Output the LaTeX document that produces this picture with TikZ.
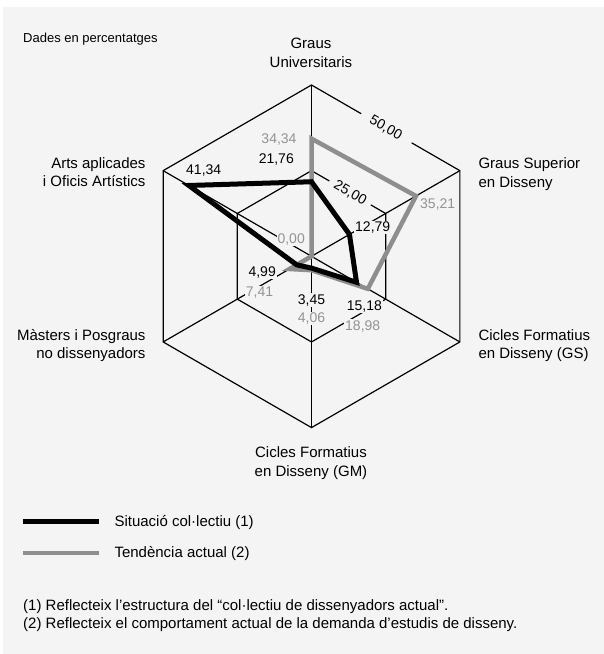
\documentclass[tikz,border=0pt]{standalone}
\usepackage{fontspec}
\setmainfont{Liberation Sans}
\usetikzlibrary{calc}
\definecolor{bgc}{HTML}{F4F4F4}
\definecolor{glinec}{HTML}{8E8E8E}
\definecolor{gtext}{HTML}{939393}
\begin{document}
\begin{tikzpicture}[x=1pt,y=-1pt,
  grid/.style={line width=1.2pt,black},
  lab/.style={font=\fontsize{15}{19}\selectfont,inner sep=0pt},
  num/.style={font=\fontsize{14}{17}\selectfont,inner sep=1pt,fill=bgc},
  numk/.style={num,text=black},
  numg/.style={num,text=gtext},
  rlab/.style={font=\fontsize{14}{17}\selectfont,inner sep=0pt,rotate=-30},
  kdata/.style={line width=5pt,draw=black,line join=miter},
  gdata/.style={line width=4.5pt,draw=glinec,line join=miter}]
\useasboundingbox (0,0) rectangle (604,654);
\fill[white] (0,0) rectangle (604,654);
\fill[bgc] (3,7) rectangle (604,654);
\coordinate (C) at (311.5,256.3);
\foreach \n/\a in {t/-90,ur/-30,lr/30,b/90,ll/150,ul/210}{
  \path (C) ++(\a:171.3) coordinate (O\n);
  \path (C) ++(\a:85.65) coordinate (I\n);
}
% grid (gaps on the top-right edges for the scale labels)
\draw[grid] ($(Ot)!0.675!(Our)$)--(Our)--(Olr)--(Ob)--(Oll)--(Oul)--(Ot)--($(Ot)!0.335!(Our)$);
\draw[grid] ($(It)!0.80!(Iur)$)--(Iur)--(Ilr)--(Ib)--(Ill)--(Iul)--(It)--($(It)!0.24!(Iur)$);
\draw[grid] (Ot)--(Ob);
\draw[grid] (Our)--(Oll);
\draw[grid] (Oul)--(Olr);
% scale labels
\node[rlab] (s50) at ($(Ot)!0.5!(Our)$) {50,00};
\node[rlab] (s25) at ($(It)!0.52!(Iur)$) {25,00};
\node[numg,anchor=base east] (s0) at (306,243.3) {0,00};
% value labels
\node[numg,anchor=base east] (v1) at (297.7,143.3) {34,34};
\node[numk,anchor=base east] (v2) at (295,163.3) {21,76};
\node[numk,anchor=base west] (v3) at (185,174) {41,34};
\node[numk,anchor=base west] (v4) at (354,231.7) {12,79};
\node[numg,anchor=base west] (v5) at (419,208.3) {35,21};
\node[numk,anchor=base east] (v6) at (277,276.7) {4,99};
\node[numg,anchor=base east] (v7) at (274.3,296.7) {7,41};
\node[numk,anchor=base] (v8) at (311.5,304) {3,45};
\node[numg,anchor=base] (v9) at (311.5,322.7) {4,06};
\node[numk,anchor=base west] (v10) at (345.7,310) {15,18};
\node[numg,anchor=base west] (v11) at (344,330) {18,98};
% data
\foreach \n/\a/\k/\g in {t/-90/21.76/34.34,ur/-30/12.79/35.21,lr/30/15.18/18.98,b/90/3.45/4.06,ll/150/4.99/7.41,ul/210/41.34/0}{
  \path (C) ++(\a:{\k*3.426}) coordinate (K\n);
  \path (C) ++(\a:{\g*3.426}) coordinate (G\n);
}
\draw[gdata] (Gt)--(Gur)--(Glr)--(Gb)--(Gll)--(Gul)--cycle;
\draw[kdata] (Kt)--(Kur)--(Klr)--(Kb)--(Kll)--(Kul)--cycle;
% axis labels
\node[lab,anchor=base west,font=\fontsize{13}{15}\selectfont] (dades) at (23,42) {Dades en percentatges};
\node[lab,anchor=base] (gu1) at (311,48.3) {Graus};
\node[lab,anchor=base] (gu2) at (311,67.3) {Universitaris};
\node[lab,anchor=base west] (gs1) at (478.3,168.3) {Graus Superior};
\node[lab,anchor=base west] (gs2) at (478.3,187.3) {en Disseny};
\node[lab,anchor=base west] (cg1) at (478.3,340) {Cicles Formatius};
\node[lab,anchor=base west] (cg2) at (478.3,358.7) {en Disseny (GS)};
\node[lab,anchor=base] (cm1) at (311,457) {Cicles Formatius};
\node[lab,anchor=base] (cm2) at (311,476) {en Disseny (GM)};
\node[lab,anchor=base east] (mp1) at (145.7,340) {Màsters i Posgraus};
\node[lab,anchor=base east] (mp2) at (145.7,358.5) {no dissenyadors};
\node[lab,anchor=base east] (ar1) at (145.7,168.3) {Arts aplicades};
\node[lab,anchor=base east] (ar2) at (145.7,186.7) {i Oficis Artístics};
% legend
\coordinate (lk1) at (22.7,521.7); \coordinate (lk2) at (99,521.7);
\coordinate (lg1) at (22.7,552.7); \coordinate (lg2) at (99,552.7);
\draw[line width=4.5pt,draw=black] (lk1)--(lk2);
\draw[line width=4pt,draw=glinec] (lg1)--(lg2);
\node[lab,anchor=base west] (lt1) at (114.3,526) {Situació col·lectiu (1)};
\node[lab,anchor=base west] (lt2) at (114.3,557.3) {Tendència actual (2)};
\node[lab,anchor=base west] (f1) at (23,610) {(1) Reflecteix l’estructura del “col·lectiu de dissenyadors actual”.};
\node[lab,anchor=base west] (f2) at (23,628) {(2) Reflecteix el comportament actual de la demanda d’estudis de disseny.};
\end{tikzpicture}
\end{document}
